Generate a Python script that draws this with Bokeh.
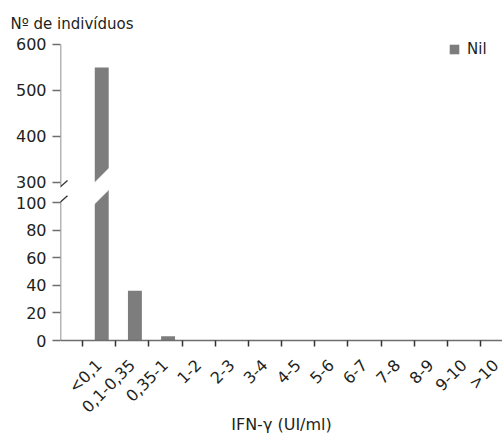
import math
from bokeh.plotting import figure
from bokeh.models import FixedTicker, Range1d, Arrow
from bokeh.embed import file_html
from bokeh.resources import INLINE

# ---------------- data ----------------
categories = ["<0,1", "0,1-0,35", "0,35-1", "1-2", "2-3", "3-4", "4-5",
              "5-6", "6-7", "7-8", "8-9", "9-10", ">10"]
nil_counts = [550, 36, 3, 0, 0, 0, 0, 0, 0, 0, 0, 0, 0]
y_ticks_low = [0, 20, 40, 60, 80, 100]
y_ticks_high = [300, 400, 500, 600]
series_name = "Nil"
title_text = "Nº de indivíduos"
x_title = "IFN-γ (UI/ml)"

# ---------------- broken axis mapping ----------------
LOW_MAX = 100
HIGH_MIN = 300
HIGH_MAX = 600
HIGH_BASE = 114.7
HIGH_SCALE = 1 / 3.0


def fy(v):
    return v if v <= LOW_MAX else HIGH_BASE + (v - HIGH_MIN) * HIGH_SCALE


FONT = "DejaVu Sans"
TXT = "#231f20"
AX = "#6e6e6e"
BAR = "#7d7d7d"

n = len(categories)
px_x = 33.17
px_y = 1.3787
x_start = -0.5 - 22 / px_x
x_end = -0.5 + 420 / px_x
y_end = fy(HIGH_MAX) + 4 / px_y

p = figure(width=502, height=440,
           x_range=Range1d(x_start, x_end), y_range=Range1d(0, y_end),
           output_backend="svg", toolbar_location=None,
           min_border_left=60, min_border_right=0, min_border_top=40,
           min_border_bottom=100)
p.outline_line_color = None
p.grid.visible = False
p.background_fill_color = "white"

# title
p.title.text = title_text
p.title.text_font = FONT
p.title.text_font_size = "15px"
p.title.text_font_style = "normal"
p.title.text_color = TXT
p.title.align = "left"
p.title.offset = -50
p.title.standoff = 15

# bars
bar_off = 0.08
bar_w = 0.42
xs = [i + bar_off for i in range(n)]
tops = [fy(v) for v in nil_counts]
p.vbar(x=xs, top=tops, bottom=0, width=bar_w, fill_color=BAR,
       line_color=None, legend_label=series_name)

# white slanted break across the tall bar
bl = bar_off - bar_w / 2 - 0.06
br = bar_off + bar_w / 2 + 0.06
slope = 24.0
lo_left = LOW_MAX - 0.7 - 0.06 * slope
hi_left = HIGH_BASE - 0.2 - 0.06 * slope
p.patch([bl, br, br, bl],
        [lo_left, lo_left + (br - bl) * slope, hi_left + (br - bl) * slope, hi_left],
        fill_color="white", line_color="white", line_width=1)

# x axis
xa = p.xaxis[0]
xa.ticker = FixedTicker(ticks=list(range(n)), minor_ticks=[i - 0.5 for i in range(n)])
xa.major_label_overrides = {i: c for i, c in enumerate(categories)}
xa.major_tick_out = 0
xa.major_tick_in = 0
xa.minor_tick_out = 6
xa.minor_tick_in = 0
xa.minor_tick_line_color = "#333333"
xa.minor_tick_line_width = 1.5
xa.axis_line_color = AX
xa.axis_line_width = 1.5
xa.major_label_orientation = math.pi / 4
xa.major_label_standoff = 16
xa.major_label_text_font = FONT
xa.major_label_text_font_size = "16px"
xa.major_label_text_color = TXT
xa.axis_label = x_title
xa.axis_label_text_font = FONT
xa.axis_label_text_font_size = "16px"
xa.axis_label_text_font_style = "normal"
xa.axis_label_text_color = TXT
xa.axis_label_standoff = -11

# y axis
ya = p.yaxis[0]
all_y = y_ticks_low + y_ticks_high
ya.ticker = FixedTicker(ticks=[fy(v) for v in all_y])
ya.major_label_overrides = {fy(v): str(v) for v in all_y}
ya.axis_line_color = None
ya.major_tick_out = 8
ya.major_tick_in = 0
ya.major_tick_line_color = AX
ya.major_tick_line_width = 1.5
ya.minor_tick_line_color = None
ya.major_label_standoff = 6
ya.major_label_text_font = FONT
ya.major_label_text_font_size = "16px"
ya.major_label_text_color = TXT

# y axis line in two pieces plus break slashes
ax_x = x_start
for (y0, y1) in [(fy(HIGH_MAX), 111.9), (101.1, 0)]:
    p.add_layout(Arrow(end=None, start=None, x_start=ax_x, y_start=y0,
                       x_end=ax_x, y_end=y1, line_color=AX, line_width=1.5))
for yc in [111.5, 100.5]:
    p.add_layout(Arrow(end=None, start=None,
                       x_start=ax_x - 7 / px_x, y_start=yc - 4.5,
                       x_end=ax_x + 7 / px_x, y_end=yc + 4.5,
                       line_color="#333333", line_width=1.3))

# legend
leg = p.legend[0]
leg.location = "top_right"
leg.border_line_color = None
leg.background_fill_alpha = 0
leg.margin = 0
leg.padding = 0
leg.spacing = 0
leg.glyph_width = 12
leg.glyph_height = 12
leg.label_standoff = 7
leg.label_width = 35
leg.label_height = 12
leg.label_text_font = FONT
leg.label_text_font_size = "15px"
leg.label_text_color = TXT

open("out.html", "w").write(file_html(p, INLINE))
